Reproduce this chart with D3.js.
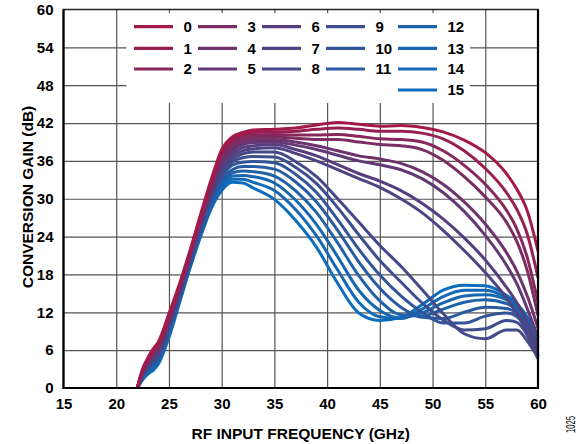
<!DOCTYPE html>
<html>
<head>
<meta charset="utf-8">
<script src="https://cdn.jsdelivr.net/npm/d3@7"></script>
<style>
body { margin: 0; background: #fff; }
text { font-family: "Liberation Sans", Arial, sans-serif; }
</style>
</head>
<body>
<div id="chart"></div>
<script>
// frequency points (GHz) shared by every curve
var freq = [22, 22.5, 23, 23.5, 24, 25, 26, 27, 28, 29, 30, 31, 32, 33, 35, 37, 39, 41, 43, 45, 47, 49, 51, 53, 55, 57, 58, 59, 60];

// conversion gain (dB) for settings 0..15
var gain0  = [0, 3.0, 4.8, 6.2, 7.3, 11.8, 16.5, 21.8, 27.5, 33.0, 37.8, 39.8, 40.5, 40.9, 41.0, 41.2, 41.7, 42.1, 41.8, 41.5, 41.6, 41.3, 40.6, 39.3, 37.3, 34.0, 31.5, 28.0, 21.7];
var gain1  = [0, 2.9, 4.6, 6.0, 7.1, 11.5, 16.3, 21.6, 27.3, 32.7, 37.4, 39.4, 40.2, 40.5, 40.6, 40.7, 41.0, 41.2, 41.0, 40.7, 40.7, 40.4, 39.5, 37.6, 34.8, 31.0, 28.3, 24.3, 17.5];
var gain2  = [0, 2.8, 4.5, 5.7, 6.8, 11.3, 16.1, 21.4, 27.0, 32.4, 37.0, 38.9, 39.8, 40.1, 40.2, 40.1, 40.1, 40.2, 39.9, 39.5, 39.4, 39.0, 37.6, 35.3, 32.3, 28.2, 25.2, 20.6, 13.5];
var gain3  = [0, 2.7, 4.3, 5.5, 6.6, 11.0, 15.9, 21.2, 26.8, 32.1, 36.5, 38.5, 39.4, 39.7, 39.8, 39.6, 39.4, 39.4, 39.0, 38.6, 38.4, 37.8, 36.1, 33.5, 30.3, 26.3, 23.2, 18.5, 11.5];
var gain4  = [0, 2.5, 4.1, 5.3, 6.4, 10.8, 15.7, 21.1, 26.6, 31.8, 36.1, 38.0, 39.0, 39.3, 39.4, 39.0, 38.4, 37.6, 36.8, 36.3, 35.6, 34.3, 32.3, 29.5, 26.0, 21.5, 18.5, 14.5, 9.5];
var gain5  = [0, 2.4, 4.0, 5.1, 6.1, 10.5, 15.5, 20.9, 26.3, 31.4, 35.6, 37.6, 38.6, 38.9, 39.0, 38.5, 37.8, 36.9, 36.0, 35.4, 34.6, 33.2, 31.0, 28.0, 24.2, 19.5, 16.5, 12.5, 8.0];
var gain6  = [0, 2.3, 3.8, 4.8, 5.9, 10.3, 15.3, 20.7, 26.1, 31.1, 35.2, 37.1, 38.1, 38.4, 38.6, 37.8, 36.8, 35.4, 34.0, 32.8, 31.3, 29.3, 26.8, 23.8, 20.3, 16.0, 13.5, 10.3, 6.5];
var gain7  = [0, 2.2, 3.6, 4.6, 5.7, 10.0, 15.1, 20.5, 25.9, 30.8, 34.8, 36.7, 37.6, 37.9, 38.1, 37.2, 36.0, 34.6, 33.2, 31.8, 30.0, 27.8, 25.0, 21.8, 18.3, 14.3, 11.8, 8.8, 5.5];
var gain8  = [0, 2.1, 3.4, 4.4, 5.4, 9.8, 14.9, 20.3, 25.6, 30.5, 34.3, 36.2, 37.1, 37.4, 37.4, 35.9, 33.5, 30.0, 26.3, 22.6, 19.3, 15.6, 11.8, 8.6, 7.8, 9.2, 9.2, 7.4, 4.8];
var gain9  = [0, 2.0, 3.2, 4.2, 5.2, 9.5, 14.7, 20.1, 25.4, 30.2, 33.9, 35.8, 36.5, 36.7, 36.6, 35.0, 32.4, 28.6, 24.3, 20.2, 16.8, 13.5, 10.8, 9.2, 9.4, 10.7, 10.4, 8.3, 4.6];
var gain10 = [0, 1.9, 3.1, 3.9, 5.0, 9.3, 14.5, 19.9, 25.2, 29.9, 33.4, 35.3, 35.8, 35.9, 35.7, 33.9, 31.0, 26.7, 22.0, 17.9, 14.6, 12.0, 10.3, 10.3, 11.4, 11.9, 11.3, 9.0, 5.0];
var gain11 = [0, 1.8, 2.9, 3.7, 4.7, 9.0, 14.3, 19.7, 24.9, 29.6, 33.0, 34.6, 35.1, 35.1, 34.7, 32.7, 29.5, 25.0, 20.0, 15.8, 12.8, 11.2, 11.0, 12.0, 12.8, 12.6, 11.8, 9.6, 5.4];
var gain12 = [0, 1.6, 2.7, 3.5, 4.5, 8.8, 14.1, 19.6, 24.7, 29.3, 32.6, 34.1, 34.4, 34.3, 33.6, 31.3, 27.8, 23.0, 17.8, 13.8, 11.6, 11.4, 12.5, 13.6, 14.0, 13.4, 12.3, 10.0, 6.0];
var gain13 = [0, 1.5, 2.5, 3.3, 4.3, 8.5, 13.9, 19.4, 24.5, 29.0, 32.2, 33.6, 33.7, 33.5, 32.5, 29.8, 25.9, 20.8, 15.5, 12.3, 11.1, 11.9, 13.5, 14.6, 14.8, 14.0, 12.8, 10.5, 6.6];
var gain14 = [0, 1.4, 2.4, 3.0, 4.0, 8.3, 13.7, 19.2, 24.2, 28.7, 31.7, 33.1, 33.1, 32.6, 31.3, 28.3, 24.1, 18.7, 13.6, 11.3, 11.0, 12.5, 14.5, 15.5, 15.5, 14.3, 13.1, 10.9, 7.2];
var gain15 = [0, 1.3, 2.2, 2.8, 3.8, 8.0, 13.5, 19.0, 24.0, 28.4, 31.3, 32.6, 32.5, 31.7, 29.9, 26.6, 22.3, 16.6, 11.9, 10.7, 11.2, 13.2, 15.5, 16.3, 16.2, 14.7, 13.4, 11.2, 8.0];

var seriesNames = ["0", "1", "2", "3", "4", "5", "6", "7", "8", "9", "10", "11", "12", "13", "14", "15"];
var xTicks = [15, 20, 25, 30, 35, 40, 45, 50, 55, 60];
var yTicks = [0, 6, 12, 18, 24, 30, 36, 42, 48, 54, 60];

var series = [gain0, gain1, gain2, gain3, gain4, gain5, gain6, gain7,
    gain8, gain9, gain10, gain11, gain12, gain13, gain14, gain15];

const svgDimensions = { width: 586, height: 444 };
const margins = { top: 9.5, bottom: 56, left: 63.5, right: 48 };

var svg = d3.select("#chart").append("svg")
    .attr("width", svgDimensions.width)
    .attr("height", svgDimensions.height)
    .style("background-color", "white");

var scaleX = d3.scaleLinear()
    .domain([15, 60])
    .range([margins.left, svgDimensions.width - margins.right]);

var scaleY = d3.scaleLinear()
    .domain([0, 60])
    .range([svgDimensions.height - margins.bottom, margins.top]);

var plotW = scaleX(60) - scaleX(15);
var plotH = scaleY(0) - scaleY(60);

// crimson -> purple -> blue
var colour = d3.piecewise(d3.interpolateRgb,
    ["#a5184a", "#7a2e63", "#573e7e", "#3c4e8e", "#1e62aa", "#0a6dbd"]);

// grid
svg.append("g")
    .attr("class", "grid")
    .attr("transform", "translate(0," + scaleY(0) + ")")
    .call(d3.axisBottom(scaleX).tickValues(xTicks.slice(1, -1)).tickSize(-plotH).tickFormat(""));
svg.append("g")
    .attr("class", "grid")
    .attr("transform", "translate(" + scaleX(15) + ",0)")
    .call(d3.axisLeft(scaleY).tickValues(yTicks.slice(1, -1)).tickSize(-plotW).tickFormat(""));
svg.selectAll(".grid .domain").remove();
svg.selectAll(".grid line")
    .attr("stroke", "#555")
    .attr("stroke-width", 1.2);

// legend background hides the grid behind it
svg.append("rect")
    .attr("x", 126.5)
    .attr("y", 13)
    .attr("width", 343.5)
    .attr("height", 90)
    .attr("fill", "white");

// curves
var line = d3.line()
    .x((d, i) => scaleX(freq[i]))
    .y(d => scaleY(d))
    .curve(d3.curveMonotoneX);

var order = d3.range(series.length).reverse();
svg.append("g")
    .selectAll("path")
    .data(order)
    .enter()
    .append("path")
    .attr("d", k => line(series[k]))
    .attr("fill", "none")
    .attr("stroke", k => colour(k / 15))
    .attr("stroke-width", 3)
    .attr("stroke-linejoin", "round");

// axes
var axisX = d3.axisBottom(scaleX).tickValues(xTicks).tickSize(0).tickPadding(10.5);
var axisY = d3.axisLeft(scaleY).tickValues(yTicks).tickSize(0).tickPadding(10);

svg.append("g")
    .attr("class", "x axis")
    .attr("transform", "translate(0," + scaleY(0) + ")")
    .call(axisX);
svg.append("g")
    .attr("class", "y axis")
    .attr("transform", "translate(" + scaleX(15) + ",0)")
    .call(axisY);
svg.selectAll(".axis .domain").remove();
svg.selectAll(".axis text")
    .attr("fill", "#000")
    .style("font-size", "15px")
    .style("font-weight", "bold");

// frame
svg.append("rect")
    .attr("x", scaleX(15))
    .attr("y", scaleY(60))
    .attr("width", plotW)
    .attr("height", plotH)
    .attr("fill", "none")
    .attr("stroke", "#222")
    .attr("stroke-width", 1.5);
svg.append("path")
    .attr("d", "M" + scaleX(15) + "," + scaleY(60) + "V" + scaleY(0) + "H" + scaleX(60) + "V" + scaleY(60))
    .attr("fill", "none")
    .attr("stroke", "#000")
    .attr("stroke-width", 2.2);

// legend
var legendCols = [134, 198, 262, 326, 398];
var legendRows = [26.7, 48.3, 69, 90];
var legend = svg.append("g")
    .selectAll("g")
    .data(d3.range(series.length))
    .enter()
    .append("g")
    .attr("transform", function (k) {
        var col = Math.min(Math.floor(k / 3), 4);
        var row = k - col * 3;
        return "translate(" + legendCols[col] + "," + legendRows[row] + ")";
    });
legend.append("line")
    .attr("x1", 0)
    .attr("x2", 39)
    .attr("stroke", k => colour(k / 15))
    .attr("stroke-width", 3.2);
legend.append("text")
    .attr("x", 49.5)
    .attr("dy", "0.36em")
    .style("font-size", "15px")
    .style("font-weight", "bold")
    .text(k => seriesNames[k]);

// axis titles
svg.append("text")
    .attr("x", (scaleX(15) + scaleX(60)) / 2)
    .attr("y", 438.5)
    .attr("text-anchor", "middle")
    .style("font-size", "15.5px")
    .style("font-weight", "bold")
    .text("RF INPUT FREQUENCY (GHz)");

svg.append("text")
    .attr("transform", "translate(33,197) rotate(-90)")
    .attr("text-anchor", "middle")
    .style("font-size", "15.5px")
    .style("font-weight", "bold")
    .text("CONVERSION GAIN (dB)");

svg.append("text")
    .attr("transform", "translate(575,433) rotate(-90)")
    .attr("textLength", 17)
    .attr("lengthAdjust", "spacingAndGlyphs")
    .style("font-size", "12px")
    .text("1025");
</script>
</body>
</html>
